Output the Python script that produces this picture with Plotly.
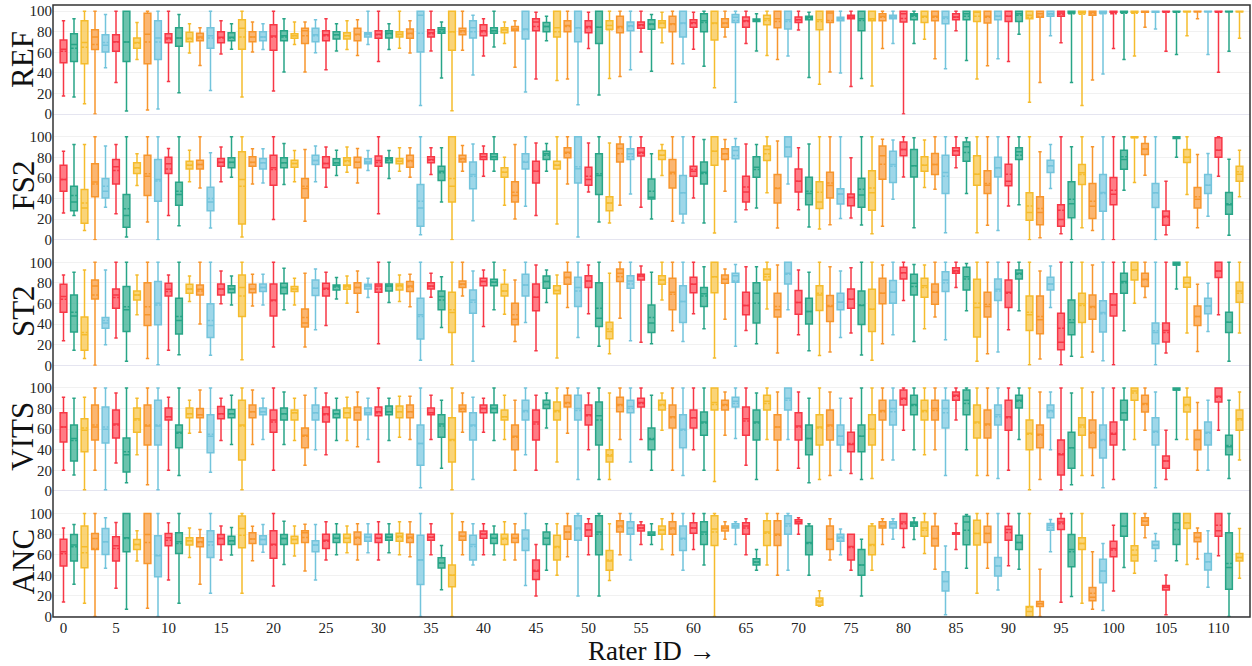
import plotly.graph_objects as go
from plotly.subplots import make_subplots

RATERS = list(range(113))
SYSTEMS = ["REF", "FS2", "ST2", "VITS", "ANC"]
X_TICKS = list(range(0, 111, 5))
Y_TICKS = [0, 20, 40, 60, 80, 100]

# ---------------- REF ----------------
REF_lo = [17.5,16.5,10,0,45,30.7,3,53,4,5,31.7,20.8,59.4,47.2,22.8,58.4,63,16.5,60.4,62.7,22.4,41,67.7,41,59.7,43,61.4,62.7,57,67.7,51,62.7,64,59.4,8.3,61.4,35,3.3,62,38,56.4,65.3,68.6,45.5,21.5,34,71.3,32.7,34,9,63.7,18.5,34.6,36.6,43,60.4,41.6,69.3,48.8,48.8,63,46.5,25.7,75,11.5,68.6,61.4,57,53,56.4,81.8,35.6,29,41,40,26.7,34.6,27.4,63.7,68.6,0,68.6,72.6,53.8,44,81,52,34,47,53.8,51,77.5,11.5,30.7,76,69.3,30.7,8.3,33,39,63.7,53,56.4,84.5,82.8,61,57.8,76,92.7,58,40.6,61,73.6]
REF_q1 = [50,51,49,62.7,60.4,61,51,64,49,53,69.3,66,70.3,71.3,64,69.3,71.3,63,70.3,71.3,62,71.3,73.6,68.6,70.3,71.3,73,73,71.3,75,73.6,74,75,73.6,60.4,75,78.5,62,77,74,76,78.5,79,81,73,81,80,75,80,70.3,79,68.6,82.5,79,81,83.5,82.5,84,80,75,84.5,80,72,84.5,89,84.5,90,86.8,84,82.8,89,91.7,82,89,90.8,92.7,81,90.8,90.8,92.7,89.4,91.7,89,90.8,87.8,91.7,91.7,90,88.4,91.7,90,90,92.7,94,95,95,98.3,98.3,96,98.3,99,99,99,99,99,99.5,99.5,99.5,99.5,99.5,99.5,99.5,99.5]
REF_med = [63,67.7,69.6,75,67,70.3,70,69.6,77.5,74,74,74,73.6,75,76,74.6,74.6,83.5,75,75,75.9,76,76,81,77,77,77,76,77.5,77.5,77.5,78.5,77.5,78.5,96,79,82,80,81,84,81,81,82,82.8,82.8,89.4,85,84,86,84,85,84.5,86,85,85.8,86.8,87.5,88.4,87.8,88.4,89,90.8,88.4,88.4,94,90.8,91.7,92.7,92.7,91.7,91.7,94,91.7,98.3,92.7,94.4,92.7,92.7,95,94.4,97.4,96,95,95,94.4,94.4,97.4,99,95,95,95,97.4,96,97.4,97.4,98.3,100,100,99,100,100,100,100,99.5,100,100,100,100,100,100,100,100,100]
REF_q3 = [72,78,90.8,82,77,77,100,74,98,90.8,78,84,79.5,78.5,84,80,79,91.7,80,80,86.8,81,78,83.5,83.5,81,80,79,83.5,79,81,81,80,82.8,100,82,84,100,83.5,90.8,86.8,84,84,85,100,92.7,89,100,90.8,100,90.8,100,90.8,95,89.4,89.4,91.7,90.8,95,100,91.7,97.4,100,92.7,96.7,94.4,92.4,96,100,100,94.4,95,100,100,94,96,100,100,97.4,96,100,97.4,100,100,100,97.4,100,100,100,100,100,100,100,100,100,100,100,100,100,100,100,100,100,100,100,100,100,100,100,100,100,100,100]
REF_hi = [90.8,92.7,100,100,96.7,100,100,89,100,100,100,96.7,87.8,84,100,90.8,87.8,100,89.4,87.8,100,92.7,89.4,89.4,91.7,92.7,87.8,90.8,91.7,100,100,87.8,100,90.8,100,100,89.4,100,100,96,92.7,100,89.4,90.8,100,99,95,100,100,100,99,100,100,100,100,100,96.7,99,100,100,99,100,100,100,100,100,97.4,100,100,100,100,99,100,100,100,100,100,100,100,100,100,100,100,100,100,100,100,100,100,100,100,100,100,100,100,100,100,100,100,100,100,100,100,100,100,100,100,100,100,100,100,100,100]
REF_mean = [61,64,65,67.7,69.6,70,70,69,70,70,73,74,73,74,74,74,74,75,75,75,75,75,76,76,76,76,77,76,77,77,77,78,77,78,78.5,78,80,80,80,80,80,81,82,82,82,85,85,80,85,84,84,84.5,82,84,85,86,87,88,87,88,88,89,88,88,91,90,91,91,90,90,91.7,93,90,91,92,94,91,92,94,94,93,95,94,94,93,94,95,95,94,95,95,96,94,95,97,97,97.4,97,97.4,97.4,97.4,98,98,99,99,99,99,99.5,99.5,99.5,99,99.5,99.5]

# ---------------- FS2 ----------------
FS2_lo = [26,23.4,9,0,31.5,25.3,2.6,52.6,17.2,0,23.4,13.6,56.2,50.3,11.4,56.2,60.7,2.6,54.2,55.2,19.5,53.6,56.2,17.9,56.2,51,62.3,65.6,55.2,67.2,25.3,59.4,66.6,60.7,4.9,63.3,36.7,0,66.6,18.5,61.7,66.6,33.4,20,32.5,23.4,66.6,15.3,54.2,2.6,46.4,17.2,16.2,33.4,44.5,31.5,20,62.3,17.9,16.2,40.6,16.2,6.5,47,17.2,29.2,30.8,45.5,11.4,54.2,29.2,12.3,10.4,14.6,20.5,21,14.3,5.8,13,39.3,61,11.7,50.6,49,6.8,70,44.8,6.8,14,9,32.8,34,0,1.9,49.7,5.8,0,11.7,9,0,0,48,55.5,62.7,0,4.9,80,43.8,11.7,22.7,61.7,4.2,41.6]
FS2_q1 = [47,28.2,16,41.6,40.6,54,12,64.3,42.9,37.3,64.3,33.4,68.8,68.8,28.2,71.4,69.8,15.3,71.4,68.8,53,69.8,70.5,40.6,73,69.8,72.4,72.4,69.8,73.7,71.4,74.7,73.7,70.5,13,74.7,57.5,36.7,75.6,49.4,78,78,60.7,36.7,68.8,55.2,78,68.8,79.5,55.2,53,43.8,28.2,75.6,78,81.2,39.6,78,50.3,25,61.7,54.2,72.4,78,78.6,36.7,60.7,77,35.7,80.5,46.4,34,30.2,40.6,34.7,33,31.5,28.6,58.8,55.5,81.5,61,66.6,63.3,44.8,82,76.3,53,44.8,61,52.3,78,18.8,14.6,65.3,13,21.4,53.6,20.5,27.6,34,68.5,99.4,82.8,31.2,14,98.4,75,30.8,44.8,80,24.7,56.8]
FS2_med = [58.4,36.7,30.8,56,47,70.8,23.4,69.8,61.7,58.4,73.7,43.8,72.4,73,36.7,75.3,75.3,58.4,75.3,74.7,69.8,74.7,74,49.7,77,74,74.7,77,75.3,75.6,77,78.6,76.3,77,30.8,78,66.6,52,79,63.3,80.5,80.5,65.6,42.9,75.3,66.6,83.4,72.4,85,69,58.4,62.3,35.7,88.6,83.4,85,41.2,82,65.6,45.5,66.6,65.6,86,83.4,86.7,46.4,70.5,87.7,49.7,90,56.8,44.8,36.7,52.6,44.5,41,43.5,45.5,81.5,73,87.7,71.8,72.4,73,65.3,86.4,90.3,63.6,53,69.8,56.8,85.4,26.3,26.3,71.8,19.5,35,65,32.5,45.8,44.2,78,100,88,45.5,22.7,99,80,39.3,53,87,34,63.6]
FS2_q3 = [72.4,52,48.7,73.7,59.4,78,43.8,74.7,82,78,80.2,55.8,76.3,77.3,51,79,79.5,85.4,80.5,79,82,79.5,77.3,59.4,82,80.5,78.6,79.5,80.2,78.6,81.2,79.5,79,82,53.6,80.5,71.4,100,82,75.6,83.4,83.4,69.8,56.2,83.4,76.3,86,76.3,89.3,100,70.5,83.4,41.6,93,88.3,89.3,59,86.7,78,62.3,71.4,75.6,100,88.3,90.3,61.7,80.5,91,63.3,100,68.8,60.7,56.2,65.6,49.4,44.5,59.7,66.9,91,86,95,87.7,80.5,83.8,82,89.3,95,81.5,66.9,80,73.4,89.3,45.5,41.6,77.3,34,56.2,73,54.5,63.3,60.4,87,100,93.5,54.5,27.9,100,87.7,50.6,63.3,99,45.8,71.4]
FS2_hi = [86,92.5,92.5,100,91,92.5,100,83.4,100,100,88.6,100,87,100,84.4,90,100,100,88.3,88.3,100,93.5,86.7,87.7,91,90,87,90,88.6,86.7,100,86.7,89.3,89.3,100,89.3,89.3,100,91.6,93,91,100,80.2,92.5,100,94,93.5,100,100,100,94,100,94,100,100,100,83.4,92.5,100,100,100,97.4,100,97.4,98.4,93,92.5,100,95.8,100,89.3,93,100,100,100,79.5,100,100,97.7,96.8,100,99,96.8,100,100,100,99,100,100,100,100,100,100,85.4,92.5,100,90.3,100,90.3,100,100,100,100,100,100,56.8,100,100,82.8,83.8,100,78.2,87]
FS2_mean = [58.4,42.9,35.7,54,52,67.2,30,69.8,64,57,68.8,47,72.4,73,40,75,75,52,75,74.7,68.2,74.7,74,52,77,74,74.7,76,75.3,75.6,75,77,76.3,76,37.3,77.5,65,59.4,78,61.7,80.5,80.5,65.6,46,76,66.6,82,72.4,84,70.8,61.7,64,35.7,83.4,80.5,84,47,82,64,45.5,68.2,64.3,86,83.4,81.8,51.3,68.2,83.4,50.3,90,56.8,47,46,55.2,44.5,41,49,50.3,73.4,71.4,87.7,71.8,72.4,73,61.7,86.4,84.7,63.6,54.5,69.8,63.6,82,32.8,30.2,71.8,28.6,39.3,63.3,37.3,44.8,48,80.5,99,88,45.5,22,99,80,41.6,53,87,35,65.9]

# ---------------- ST2 ----------------
ST2_lo = [23.9,14.5,6.5,0,20,26.5,3.9,49,6.5,0.6,14.5,10.3,62,40,9.7,59.7,58.7,5.5,57.7,58.7,17.7,53.9,58.7,17.7,34.5,38.7,64.5,60.3,51.6,65.8,21,61,62,57,4.8,66.1,36.8,0.6,67.4,3.9,37.7,53.9,49.7,23.2,41.6,14.2,61,7.1,56.1,27.1,50,18.4,11.3,45.8,23.9,22.3,21,63.5,33.5,23.2,50,35.5,7.1,44.8,18.4,33.9,21,54.8,11.9,53.9,29.7,14.2,9.4,12.9,27.1,31.3,10,4.8,21,29.7,62.9,23.2,35.5,46.8,24.8,75.5,52.9,3.9,11.3,12.9,34.5,52.9,0.6,6.1,56.1,0.6,8.7,7.7,12.9,4.5,0.6,33.5,60.3,65.8,0.6,11.9,74.2,31.3,13.5,32.9,49,3.9,31.3]
ST2_q1 = [51.6,32.3,14.5,64.5,36,55.5,32.9,63.5,38.7,39.4,67.4,30.3,70,68.4,27.1,68.4,70.6,47.4,70.6,71.6,48,69.4,71.6,37.1,67.7,67.4,73.2,73.9,70,74.2,71,72.3,73.2,71.6,25.5,74.2,53.9,31.9,75.5,50.6,77.4,77.4,67.4,39.4,67.4,52.9,74.8,69.4,78.7,57.1,75.5,37.7,25.8,81.3,74.8,82.9,31.9,78.7,53.9,41.6,70.6,57.1,70.6,79.7,80.6,49,41,82.9,46.8,79,49.7,40,53.2,42.6,53.9,55.5,39.7,32.9,59.7,60.3,83.9,68.4,66.1,59.4,71.6,89.4,73.2,27.4,46.8,62.9,56.1,83.9,33.9,30.6,73.2,15.2,29.7,41.6,44.8,32.3,48,70,82.9,76.5,21,22.6,97.5,75.8,38.7,50,85.2,31.9,61.3]
ST2_med = [66.8,48,29.7,77,41,68.4,53.9,68.4,49,60.3,73.9,43.5,74.2,73.9,38.7,74.2,74.2,75.5,74.2,75.5,63.5,75.5,74.2,41,74.8,74.8,77,77,75.5,77,77,77,77.4,77,49,77,66.8,51.3,79,63.5,81.3,80.6,72.3,44.8,78,66.1,81.3,72.6,85.5,75.5,81.9,45.8,32.9,89.4,81.9,86.8,41,82.9,71,61.9,78.7,69.4,86.1,83.5,87.1,58,70,88.4,53.9,89.4,61,52.3,68.4,57.1,61.3,64.2,58,54.5,70,71,90,79.7,77.4,71,82.9,91.9,86.1,56.1,57.1,73.9,71,89.4,49,44.2,79,22.3,41.6,59.7,57.1,51.3,58.7,81.3,92.6,83.5,31.9,33.9,99,80.3,47.4,57.7,91.6,41.9,72.3]
ST2_q3 = [78.7,68.4,46.8,82.9,46.5,74.2,76.5,72.3,80.3,81.3,79.7,65.2,78.7,78,59.7,79,77.4,87.7,78.7,79,79,79.7,76.5,54.8,82.9,79.7,78,78,80.3,78.7,79,79,79,81.3,65.2,80.3,72.3,71,81.9,73.2,84.5,83.5,78.7,60.3,88.4,79,86.8,77.4,90.3,85.5,87.1,80.3,41.9,93.5,87.1,88.4,58.7,87.1,84.5,77.4,85.5,75.5,100,87.7,89.4,71,80.3,93.5,70,100,72.6,65.2,77.4,67.7,70,74.2,72.3,73.9,84.5,82.3,95.2,88.4,84.5,79,91,94.8,95.2,83.5,71,83.9,82.9,92.6,67.4,67.4,85.5,50.6,63.5,70,68.4,62.6,69.4,89.4,100,89.4,41,41,100,85.5,57.7,65.2,100,51.6,80.6]
ST2_hi = [87.7,90.3,92.6,100,92.6,100,100,87.7,100,100,87.7,100,86.8,100,100,91.6,86.8,100,88.4,88.4,100,94.2,84.5,89.4,93.5,90.3,85.2,86.8,91.6,84.5,100,100,87.7,88.4,100,89.4,86.1,100,100,91.6,92.6,100,92.6,82.9,100,97.4,92.6,87.7,100,100,97.4,100,89.4,100,100,96.5,90.3,100,100,100,100,95.8,100,93.5,98,95.8,95.8,100,97.4,100,92.6,90.3,100,95.8,91.6,94.8,100,100,97.4,100,100,98,97.4,100,100,100,99,100,100,100,100,100,100,91.6,96.5,100,100,100,97.4,100,100,100,100,100,100,100,100,100,78.7,79.7,100,100,100]
ST2_mean = [64.2,51.6,31.9,68.4,43.5,65.8,57,68.4,57,58.7,71.6,47.4,74.2,72.3,43.5,74.2,74.2,67.4,74.2,75.5,62.6,75.5,74.2,46.5,74.8,74,76,76,75.5,77,74.2,77,77,76,47.4,76.5,63.5,53.9,78.5,61.3,81.3,80.6,72.3,49,78,66.1,81.3,72.6,85,72.3,81.9,55.5,35.2,86.1,79,86.8,46.5,82.9,69,61.9,78.7,67.4,86.1,83.5,81.9,58,60.3,86,57.1,88.4,61,52.3,70,58,61.3,64.2,58.7,54.5,70,71,90,76.5,75.5,71,80.3,91,83.9,60.3,59.4,72.3,70,88.4,51.6,47.4,79,36.1,44.2,58,56.1,50,58.7,80.3,92.6,83,33.5,31.9,97.4,80.3,47.4,57.7,91.6,41.9,70]

# ---------------- VITS ----------------
VITS_lo = [20,15.5,1,20,1,27,8,35,6,1,20,15,56,57,18,49,45,1,45,50,20,45,49,25,40,35,49,49,43,50,28,49,52,50,3,50,22,1,57,11,57,49,50,20,35,20,61,28,56,11,40,11,11,50,28,50,20,59,20,15,40,20,9,54,51,25,11,50,20,50,22,8,11,15,20,17,11,12,30,30,59,40,35,40,15,69,40,15,15,12,20,50,1,11,40,1,6,15,15,3,11,40,50,59,3,11,50,50,20,20,59,12,30]
VITS_q1 = [47.6,29,38,49.5,46.6,51.5,18.4,57,44.7,44.7,69,42,71,71,37,70,71,30,71,74,57,69,69,42,69,67,71,71,69,74,73,74,71,71,25,74,52,28,77,49.5,76,76,69,40,69,49.5,80,69,81.5,69,64,44.7,28,77,76,81.5,40,78.6,61,42,61,54,78.6,78.6,81.5,54,49.5,78.6,49.5,78.6,49.5,35,44.7,49.5,44.7,38,38,44.7,69,64,83.5,74,69,69,61,88,74,51.5,51.5,64,59,80.6,40,42,71,15.5,22,54,42,32,44.7,69,88,76.7,44.7,22,98,76.7,40,44.7,86.4,35,59]
VITS_med = [62,51,59,62,60,65,35,70,63,63,72,57,75,74,53,75,75,64,77,77,69,75,76,54,76,75,75,76,76,76,77,77,77,77,46,76,65,50,80,64,80,80,72,53,78,67,84,78,86,80,74,73,34,84,82,86,50,84,72,60,71,67,86,84,87,70,67,87,62,90,63,51,62,64,53,45,53,60,78,80,90,84,78,80,80,93,88,67,65,74,72,88,56,55,78,35,42,64,57,50,55,76,97,85,58,29,99,84,50,57,92,43,70]
VITS_q3 = [76,64,70,83.5,81.5,78.6,51.5,80.6,83.5,88,80.6,64,80.6,80,74,82,79,88,83.5,80.6,78.6,80.6,78.6,61,83.5,81.5,78.6,80.6,81.5,80.6,81.5,82.5,82.5,83.5,64,80.6,74,71,83.5,76,83.5,83.5,78.6,64,88,78.6,88,86.4,93,93,83.5,86.4,40,91,88,90,61,88,83.5,74,78.6,76.7,100,88,91,81.5,78.6,93,74,100,76,64,74,78.6,64,57,64,74,88,88,98,93,88,88,88,96,98,83.5,78.6,83.5,88,93,69,64,83.5,49.5,57,71,69,64,67,88,100,93,71,34,100,91,59,67,100,54,78.6]
VITS_hi = [91,90,91,100,100,95,100,90,100,100,91,100,88,98,100,90,93,100,98,90,100,96,90,93,100,95,90,91,96,90,100,90,92,92,100,93,88,100,95,91,90,100,93,88,100,93,95,100,100,100,95,100,95,100,100,100,93,95,100,100,100,100,100,96,100,100,95,100,96,100,96,90,100,96,90,90,100,100,100,100,100,100,100,100,100,100,100,100,100,100,100,100,100,96,96,100,95,100,96,100,100,100,100,100,96,59,100,100,86,88,100,88,96]
VITS_mean = [62,49,61,64,62,64,38,69,64,64,72,56,75,74,55,75,75,63,77,77,67,75,76,53,76,74,75,76,76,76,76,77,77,77,46,76,63,49,79,63,80,80,72,52,77,65,84,77,85,78,73,69,35,83,80,85,51,83,71,59,71,66,84,83,85,68,66,85,62,88,62,51,61,63,53,46,53,60,77,77,89,83,77,78,76,92,85,66,64,72,71,87,55,54,77,36,42,62,56,49,56,76,95,84,57,29,98,83,50,56,91,44,69]

# ---------------- ANC ----------------
ANC_lo = [14,31.3,12.9,0,46.8,27.4,7.1,53.9,8,0,35.5,12.9,57.4,31.3,22.6,54.8,59.7,22.6,54.2,62.3,29.7,50.6,58.7,44.2,35.5,55,60,62,55,62,55,62,60,58,0,60,26,0,60,50,60,60,55,55,30,20,45,40,58,20,60,20,35,60,55,70,70,65,60,45,65,50,0,75,70,60,45,50,40,45,80,40,10,55,60,45,20,45,70,75,67,74.8,61.3,45.8,1.6,65.2,46.8,22.6,46.8,25.8,49.4,45.8,0,0,62.9,13.9,19.4,12.9,7.1,5.8,24.8,47.7,41.9,76.5,53.9,1.6,54.2,50.6,55.8,28.4,59,0,37.1]
ANC_q1 = [49,53.9,47.4,65,60.3,53.9,62.9,65.2,51.6,38.7,68.7,61.3,69.4,67.7,57.4,70,70,66.8,71,70,56.5,70,71,72,62.9,66,72,72,70,73,72,74,73,72,31,74,47,29,74,55,76,71,70,72,64,36,70,55,75,74,78,60,45,82,80,83,79,80,80,64,81,70,69,83,86,80,50,69,69,80,90,60,11,65,73,55,40,60,86,86,85.5,87.7,78,68.4,24.8,80,69.7,69.4,72,39.4,74.2,65.2,0,9.7,83.9,84.5,48.4,65.2,15.2,32.9,58,78,53.9,88.7,66.1,25.8,70,85.5,72.6,45.2,78,26.5,53.9]
ANC_med = [63,69.4,67.7,75.8,72.6,68.7,76.5,70,79.7,59,76.5,72.6,73.5,72.6,72.6,75.8,73.5,85.5,75.2,74.8,70.3,75.8,74.8,81.3,69.4,74,76,76,77,77,76,77,78,77,55,77,52,40,78,70,80,76,76,76,76,44,76,68,82,86,84,82,54,88,86,86,80,84,86,76,86,82,85,86,88,88,53,82,80,90,92,72,14,75,77,68,50,70,88,90,91.9,90.3,86.1,75.8,33.9,80.6,91.9,80.6,80.6,49,84.5,72,4.8,12.3,88.7,91.9,65.2,71,18.7,44.2,66.1,87.7,59.7,92.6,69.4,28.4,91,91,76.8,53.2,83.2,47.7,57.4]
ANC_q3 = [75,79.7,88,80.6,85.5,77.4,100,74.8,100,78.4,80.6,81.3,76.5,76.5,83.2,79.7,78,97.7,81.3,78.4,83.2,79.7,78,83.2,73.5,80,80,80,82,80,80,80,81,80,79,80,57,50,82,79,83,80,80,80,84,55,82,79,88,98,90,98,64,93,92,89,82,88,92,88,91,92,98,88,90,91,56,93,93,98,94,88,18,88,80,80,65,88,92,92,100,91.9,91.9,87.7,43.5,81.3,97.4,93.5,87.7,57.4,87.7,79,9.7,14.5,90.3,95.2,79.7,76.5,28.1,55.5,73.2,100,68.7,96,73.2,30,100,100,81.3,61.3,100,81.3,61.3]
ANC_hi = [86,89.4,100,100,96,91.3,100,83.2,100,100,91,100,86,84.5,100,88,86.5,100,87.7,89.4,100,92.6,88,89.7,89.4,92,90,88,90,90,92,90,92,92,100,90,69,100,92,90,90,88,92,90,100,70,90,90,100,100,95,100,90,100,100,92,90,95,100,100,100,100,100,92,92,95,65,100,100,100,96,90,25,95,85,80,75,90,95,95,100,96,100,100,68.4,90.3,99,100,100,100,100,100,100,45.8,94.2,100,100,100,62.9,71,88.7,100,100,100,80.6,40.3,100,100,86.1,83.2,100,100,85.5]
ANC_mean = [61,67.7,62,66,72.6,66,75.8,70,72,59.7,74.2,71,73.5,72,69.4,75.8,73.5,79,75.2,74.8,69.4,75.8,74.8,76.8,69.4,73,76,76,76,77,76,77,77,76,55,77,52,40,78,68,80,76,75,76,75,45,76,67,82,85,84,80,55,87,86,86,80,84,85,75,86,80,82,86,88,86,53,81,79,88,92,71,15,75,76,67,50,69,88,90,90,89,83.9,75.8,33.9,80.6,83.9,80.6,80.6,49,81.6,72,9,12.3,86.5,90,62.9,71,22.6,44.2,64.5,87.7,64.5,92.6,69.4,28.4,84.5,91,76.8,53.2,88.7,51.6,57.4]

DATA = {
    "REF": (REF_lo, REF_q1, REF_med, REF_q3, REF_hi, REF_mean),
    "FS2": (FS2_lo, FS2_q1, FS2_med, FS2_q3, FS2_hi, FS2_mean),
    "ST2": (ST2_lo, ST2_q1, ST2_med, ST2_q3, ST2_hi, ST2_mean),
    "VITS": (VITS_lo, VITS_q1, VITS_med, VITS_q3, VITS_hi, VITS_mean),
    "ANC": (ANC_lo, ANC_q1, ANC_med, ANC_q3, ANC_hi, ANC_mean),
}

LINE_COLORS = ["rgb(247,55,70)", "rgb(40,165,135)", "rgb(245,188,45)", "rgb(247,150,45)", "rgb(115,196,220)"]
FILL_COLORS = ["rgba(255,80,92,0.75)", "rgba(50,172,142,0.72)", "rgba(248,198,75,0.75)", "rgba(250,158,65,0.75)", "rgba(125,202,226,0.75)"]

PLOT_H = 612.0
PITCH = 125.6 / PLOT_H
DOM_H = 109.6 / PLOT_H

fig = make_subplots(rows=5, cols=1, shared_xaxes=True, vertical_spacing=0.02)

SERIF = "Liberation Serif, Times New Roman, serif"

for r, name in enumerate(SYSTEMS):
    lo, q1, med, q3, hi, mean = DATA[name]
    for c in range(5):
        idx = [i for i in RATERS if i % 5 == c]
        fig.add_trace(go.Box(
            x=idx,
            q1=[q1[i] for i in idx],
            median=[med[i] for i in idx],
            q3=[q3[i] for i in idx],
            lowerfence=[lo[i] for i in idx],
            upperfence=[hi[i] for i in idx],
            mean=[mean[i] for i in idx],
            boxmean=True,
            boxpoints=False,
            width=0.64,
            whiskerwidth=0.5,
            line=dict(color=LINE_COLORS[c], width=1.5),
            fillcolor=FILL_COLORS[c],
            showlegend=False,
            hoverinfo="skip",
        ), row=r + 1, col=1)

for r in range(5):
    top = 1 - r * PITCH
    ax = "yaxis" if r == 0 else f"yaxis{r+1}"
    fig.layout[ax].update(
        domain=[max(0, top - DOM_H), top],
        range=[-0.5, 106],
        tickvals=Y_TICKS,
        ticktext=[str(v) for v in Y_TICKS],
        tickfont=dict(family=SERIF, size=15, color="#222"),
        showgrid=True, gridcolor="rgba(0,0,0,0.055)", gridwidth=1,
        zeroline=True, zerolinecolor="rgba(110,110,170,0.18)", zerolinewidth=1,
        ticks="", showline=False,
    )
    xa = "xaxis" if r == 0 else f"xaxis{r+1}"
    fig.layout[xa].update(
        range=[-1, 113], showgrid=False, zeroline=False, showline=False,
        showticklabels=(r == 4),
        tickvals=X_TICKS, ticktext=[str(v) for v in X_TICKS],
        tickfont=dict(family=SERIF, size=15, color="#222"),
        ticks="",
    )
    fig.add_annotation(
        text=SYSTEMS[r], xref="paper", yref="paper",
        x=-0.025, y=top - DOM_H / 2, xanchor="center", yanchor="middle",
        textangle=-90, showarrow=False,
        font=dict(family=SERIF, size=31, color="#111"),
    )

fig.add_annotation(
    text="Rater ID →", xref="paper", yref="paper", x=0.5, y=-34 / PLOT_H,
    xanchor="center", yanchor="middle", showarrow=False,
    font=dict(family=SERIF, size=27, color="#111"),
)

fig.add_shape(type="rect", xref="paper", yref="paper", x0=0, x1=1, y0=0, y1=1,
              line=dict(color="#333", width=1.5), fillcolor="rgba(0,0,0,0)")

fig.update_layout(
    width=1252, height=666,
    margin=dict(l=53, r=2, t=5, b=49),
    paper_bgcolor="white", plot_bgcolor="white",
    boxmode="overlay",
)

fig.write_html("out.html", config={"displayModeBar": False},
               post_script="document.body.style.margin='0px';document.body.style.overflow='hidden';")
